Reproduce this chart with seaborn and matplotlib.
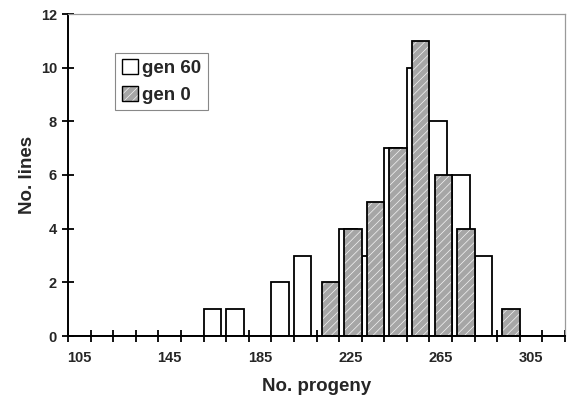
import numpy as np
import pandas as pd
import matplotlib
matplotlib.use("Agg")
import matplotlib.pyplot as plt
import seaborn as sns
from matplotlib.patches import Patch

# ---- data ----
bins = [105, 115, 125, 135, 145, 155, 165, 175, 185, 195, 205,
        215, 225, 235, 245, 255, 265, 275, 285, 295, 305, 315]
gen60 = [0, 0, 0, 0, 0, 0, 1, 1, 0, 2, 3, 0, 4, 3, 7, 10, 8, 6, 3, 0, 0, 0]
gen0 = [0, 0, 0, 0, 0, 0, 0, 0, 0, 0, 0, 2, 4, 5, 7, 11, 6, 4, 0, 1, 0, 0]
xtick_labels = ["105", "145", "185", "225", "265", "305"]
series_names = ["gen 60", "gen 0"]

sns.set_theme(style="white")
plt.rcParams["font.family"] = ["Liberation Sans", "DejaVu Sans"]
plt.rcParams["font.weight"] = "bold"
plt.rcParams["hatch.linewidth"] = 0.5

fig = plt.figure(figsize=(5.68, 3.98), dpi=100)
ax = fig.add_axes([68 / 568, 1 - 336 / 398, 497 / 568, 322 / 398])

bar_w = 0.775            # fraction of bin width
shift = 10 * (1 - bar_w) / 2
bins_arr = np.array(bins, dtype=float)
df = pd.DataFrame({"bin": bins_arr, "gen60": gen60, "gen0": gen0})

gray = "#a6a6a6"
sns.barplot(x=df["bin"] - shift, y=df["gen60"], native_scale=True,
            width=bar_w, color="white", saturation=1, edgecolor="black",
            linewidth=1.3, errorbar=None, ax=ax)
n_before = len(ax.patches)
sns.barplot(x=df["bin"] + shift, y=df["gen0"], native_scale=True,
            width=bar_w, color=gray, saturation=1, edgecolor="black",
            linewidth=1.3, errorbar=None, ax=ax)


def white_hatch(p):
    p.set_hatch("////")
    if hasattr(p, "set_hatchcolor"):
        p.set_hatchcolor("#f4f4f4")
    else:
        p._hatch_color = (0.96, 0.96, 0.96, 1)


for p in ax.patches[n_before:]:
    white_hatch(p)

ax.set_xlim(100, 320)
ax.set_ylim(0, 12)
ax.set_xticks(np.arange(100, 321, 10))
ax.set_xticklabels([])
ax.set_xticks([float(t) for t in xtick_labels], minor=True)
ax.set_xticklabels(xtick_labels, minor=True, fontsize=10.5, fontweight="bold")
ax.tick_params(axis="x", which="major", direction="inout", length=8,
               width=1.3, color="black", bottom=True)
ax.tick_params(axis="x", which="minor", length=0, pad=11, bottom=True)
ax.set_yticks(np.arange(0, 13, 2))
ax.set_yticklabels([str(v) for v in range(0, 13, 2)], fontsize=10.5,
                   fontweight="bold")
ax.tick_params(axis="y", direction="inout", length=8, width=1.3,
               color="black", left=True, pad=4)

for s in ["left", "bottom"]:
    ax.spines[s].set_color("black")
    ax.spines[s].set_linewidth(1.4)
for s in ["top", "right"]:
    ax.spines[s].set_color("#9a9a9a")
    ax.spines[s].set_linewidth(0.9)

ax.set_xlabel("No. progeny", fontsize=13.5, fontweight="bold", labelpad=9)
ax.set_ylabel("No. lines", fontsize=13.5, fontweight="bold", labelpad=3)

h0 = Patch(facecolor="white", edgecolor="black", linewidth=1.0)
h1 = Patch(facecolor=gray, edgecolor="black", linewidth=1.0)
white_hatch(h1)
leg = ax.legend([h0, h1], series_names, loc="upper left",
                bbox_to_anchor=(0.095, 0.88), frameon=True, fancybox=False,
                edgecolor="#888888", framealpha=1,
                prop={"weight": "bold", "size": 13.5},
                handlelength=0.85, handleheight=0.85, handletextpad=0.25,
                borderpad=0.35, labelspacing=0.45, borderaxespad=0)
leg.get_frame().set_linewidth(0.8)

fig.savefig("out.png", dpi=100)
